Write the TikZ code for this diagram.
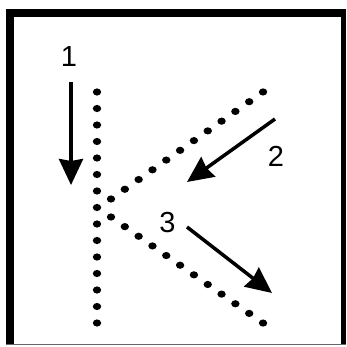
\documentclass[tikz,border=0pt]{standalone}
\usepackage{fontspec}
\setmainfont{Liberation Sans}
\usetikzlibrary{arrows.meta}

\begin{document}
\begin{tikzpicture}[
  x=1pt, y=-1pt,
  dot/.style={fill=black},
  arrow/.style={-{Stealth[length=26pt, width=24pt, inset=2pt]}, line width=3.5pt},
  num/.style={font=\fontsize{29}{32}\selectfont, inner sep=0pt, draw=none,
    text=black, line width=0.5pt}
]
\useasboundingbox (0,0) rectangle (346,347);
% frame
\fill (6,9) rectangle (14,344);
\fill (6,9) rectangle (346,17);
\fill (341,9) rectangle (346,344);
\fill[black!60] (6,343.5) rectangle (346,345);

% dotted K
\foreach \i in {0,...,14}
  \fill[dot] (97,92+16.5*\i) circle[x radius=4.2, y radius=3.6];
\foreach \i in {0,...,11}
  \fill[dot] (111+13.82*\i,199-9.73*\i) circle[x radius=4.2, y radius=3.6];
\foreach \i in {0,...,11}
  \fill[dot] (111+13.82*\i,217+9.64*\i) circle[x radius=4.2, y radius=3.6];

% labels
\node[num] (one) at (69,57) {1};
\node[num] (two) at (276,156) {2};
\node[num] (three) at (167.5,222.5) {3};

% arrows
\coordinate (start1) at (71,82);
\coordinate (end1) at (71,185);
\coordinate (start2) at (275,119);
\coordinate (end2) at (187,182);
\coordinate (start3) at (187,227);
\coordinate (end3) at (272,293);

\draw[arrow] (start1) -- (end1);
\draw[arrow] (start2) -- (end2);
\draw[arrow] (start3) -- (end3);
\end{tikzpicture}
\end{document}
